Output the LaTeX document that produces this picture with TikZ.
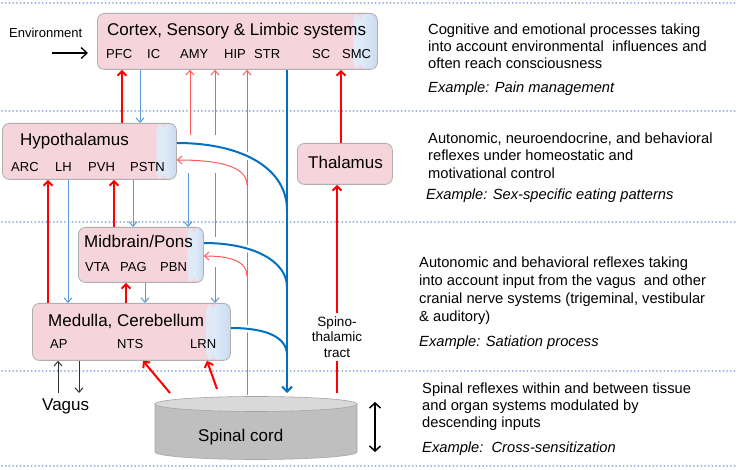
\documentclass[tikz,border=0pt]{standalone}
\usepackage{fontspec}
\setmainfont{Liberation Sans}
\usetikzlibrary{arrows.meta}
\definecolor{pinkc}{RGB}{245,212,220}
\definecolor{blueA}{RGB}{222,236,250}
\definecolor{blueB}{RGB}{206,218,239}
\definecolor{bordc}{RGB}{175,175,175}
\definecolor{dotc}{RGB}{143,170,220}
\definecolor{redA}{RGB}{255,0,0}
\definecolor{redB}{RGB}{255,90,90}
\definecolor{blueT}{RGB}{0,112,192}
\definecolor{blueL}{RGB}{91,155,213}
\definecolor{cylA}{RGB}{191,191,191}
\definecolor{cylB}{RGB}{217,217,217}
\definecolor{cylC}{RGB}{165,165,165}
\definecolor{darkk}{RGB}{50,50,50}
\begin{document}
\begin{tikzpicture}[x=1pt,y=-1pt,
  box/.style={draw=bordc, line width=0.8pt, rounded corners=7pt, fill=pinkc, inner sep=0pt, anchor=north west},
  grad/.style={path picture={
    \shade[left color=pinkc, right color=blueA] ([xshift=-#1]path picture bounding box.south east) rectangle ([xshift=-#1+7pt]path picture bounding box.north east);
    \shade[left color=blueA, right color=blueB] ([xshift=-#1+7pt]path picture bounding box.south east) rectangle (path picture bounding box.north east);}},
  ttl/.style={font=\fontsize{17}{20}\selectfont, inner sep=0pt, anchor=base west},
  lab/.style={font=\fontsize{13}{15}\selectfont, inner sep=0pt, anchor=base west},
  txt/.style={font=\fontsize{14.7}{17}\selectfont, inner sep=0pt, anchor=base west},
  ex/.style={font=\fontsize{14.7}{17}\selectfont\itshape, inner sep=0pt, anchor=base west},
  dotline/.style={draw=dotc, line width=2pt, dash pattern=on 0pt off 3.7pt, line cap=round},
  rthick/.style={draw=redA, line width=2pt, -{Straight Barb[length=4.5pt,width=9pt]}},
  rthin/.style={draw=redB, line width=1pt, -{Straight Barb[length=4.5pt,width=8pt]}},
  bthick/.style={draw=blueT, line width=2pt},
  bthin/.style={draw=blueL, line width=1pt, -{Straight Barb[length=4.5pt,width=8pt]}},
  kthin/.style={draw=darkk, line width=1pt, -{Straight Barb[length=4.5pt,width=8pt]}},
  bridge/.style={preaction={draw=white, line width=7pt}}
]
\fill[white] (0,0) rectangle (740,470);
\useasboundingbox (0,0) rectangle (740,470);

% dotted separators
\foreach \yy in {3,111,222,371,466} \draw[dotline] (2,\yy) -- (736,\yy);

% boxes
\node[box, grad=24pt, minimum width=280pt, minimum height=56pt] (cortex) at (97,13) {};
\node[box, grad=20pt, minimum width=174pt, minimum height=56pt] (hypo) at (2,123) {};
\node[box, minimum width=95pt, minimum height=41pt] (thal) at (297,143) {};
\node[box, grad=16pt, minimum width=125pt, minimum height=55pt] (mid) at (78,227) {};
\node[box, grad=24pt, minimum width=198pt, minimum height=57pt] (med) at (32,303) {};

% box texts
\node[ttl] (tcortex) at (107,36) {Cortex, Sensory \& Limbic systems};
\node[lab] (lpfc) at (106,59) {PFC};
\node[lab] (lic) at (147,59) {IC};
\node[lab] (lamy) at (180,59) {AMY};
\node[lab] (lhip) at (224,59) {HIP};
\node[lab] (lstr) at (254,59) {STR};
\node[lab] (lsc) at (312,59) {SC};
\node[lab] (lsmc) at (342,59) {SMC};

\node[ttl] (thypo) at (20,146) {Hypothalamus};
\node[lab] (larc) at (11,172) {ARC};
\node[lab] (llh) at (55,172) {LH};
\node[lab] (lpvh) at (88,172) {PVH};
\node[lab] (lpstn) at (130,172) {PSTN};

\node[ttl] (tthal) at (308,169) {Thalamus};

\node[ttl] (tmid) at (84,248) {Midbrain/Pons};
\node[lab] (lvta) at (85,272) {VTA};
\node[lab] (lpag) at (120,272) {PAG};
\node[lab] (lpbn) at (160,272) {PBN};

\node[ttl] (tmed) at (48,327) {Medulla, Cerebellum};
\node[lab] (lap) at (50,349) {AP};
\node[lab] (lnts) at (117,349) {NTS};
\node[lab] (llrn) at (190,349) {LRN};

% spinal cord
\path[fill=cylA, draw=cylC, line width=0.6pt] (155,404) -- (155,452) arc[start angle=180, end angle=0, x radius=101, y radius=7.5] -- (357,404) -- cycle;
\path[fill=cylB, draw=cylC, line width=0.6pt] (256,404) ellipse[x radius=101, y radius=7.5];
\node[ttl] (tspinal) at (198,442) {Spinal cord};

\node[ttl] (tvagus) at (42,411) {Vagus};
\node[font=\fontsize{13}{15}\selectfont, inner sep=0pt, anchor=base west] (tenv) at (9,38) {Environment};

\node[font=\fontsize{13.5}{15.5}\selectfont, align=center, inner sep=3pt] (st) at (337,337) {Spino-\\thalamic\\tract};

% coordinates
\coordinate (envA) at (52,53);
\coordinate (rA) at (190,135);
\coordinate (rB) at (215,135);
\coordinate (sHIP) at (247,395);
\coordinate (cH) at (247,185);
\coordinate (cM) at (247,276);
\coordinate (sSTR) at (287,393);
\coordinate (sNTS) at (170,393);
\coordinate (sLRN) at (217,389);
\coordinate (sST) at (337,393);
\coordinate (bA) at (188,173);
\coordinate (bB) at (215,173);
\coordinate (bB2) at (215,237);
\coordinate (bB3) at (215,267);
\coordinate (vU) at (58,393);
\coordinate (vD) at (79,393);
\coordinate (da1) at (375,402);
\coordinate (da2) at (375,452);

% thin red long line (drawn first, bridged by blue curves)
\draw[rthin] (sHIP) -- (cortex.south -| 247,0);

% blue thick curves with bridge
\draw[bthick, bridge] (hypo.east |- 0,143) .. controls (245,143) and (287,170) .. (287,210);
\draw[bthick, bridge] (mid.east |- 0,243) .. controls (255,243) and (287,262) .. (287,287);
\draw[bthick, bridge] (med.east |- 0,328) .. controls (268,328) and (287,338) .. (287,355);
\draw[bthick, -{Straight Barb[length=5pt,width=10pt]}] (cortex.south -| 287,0) -- (sSTR);

% thin red
\draw[rthin] (rA) -- (cortex.south -| 190,0);
\draw[rthin] (rB) -- (cortex.south -| 215,0);
\draw[rthin] (cH) .. controls (247,166) and (218,160) .. (hypo.east |- 0,160);
\draw[rthin] (cM) .. controls (247,262) and (232,256) .. (mid.east |- 0,256);

% thick red
\draw[rthick] (hypo.north -| 122,0) -- (cortex.south -| 122,0);
\draw[rthick] (thal.north -| 341,0) -- (cortex.south -| 341,0);
\draw[rthick] (med.north -| 48,0) -- (hypo.south -| 48,0);
\draw[rthick] (mid.north -| 114,0) -- (hypo.south -| 114,0);
\draw[rthick] (med.north -| 126,0) -- (mid.south -| 126,0);
\draw[rthick] (sNTS) -- (med.south -| 143,0);
\draw[rthick] (sLRN) -- (med.south -| 207,0);
\draw[draw=redA, line width=2pt] (sST) -- (st.south);
\draw[rthick] (st.north) -- (thal.south -| 337,0);

% thin blue
\draw[bthin] (cortex.south -| 140,0) -- (hypo.north -| 140,0);
\draw[bthin] (hypo.south -| 68,0) -- (med.north -| 68,0);
\draw[bthin] (hypo.south -| 133,0) -- (mid.north -| 133,0);
\draw[bthin] (bA) -- (mid.north -| 188,0);
\draw[draw=blueL, line width=1pt] (bB) -- (bB2);
\draw[bthin] (bB3) -- (med.north -| 215,0);
\draw[bthin] (mid.south -| 145,0) -- (med.north -| 145,0);

% black arrows
\draw[kthin] (vU) -- (med.south -| 58,0);
\draw[kthin] (med.south -| 79,0) -- (vD);
\draw[draw=black, line width=1.3pt, -{Straight Barb[length=6pt,width=11pt]}, shorten >=9pt] (envA) -- (cortex.west |- 0,53);
\draw[draw=black, line width=1.5pt, {Straight Barb[length=5pt,width=11pt]}-{Straight Barb[length=5pt,width=11pt]}] (da1) -- (da2);

% right-hand descriptions
\node[txt] (d1a) at (428,35) {Cognitive and emotional processes taking};
\node[txt] (d1b) at (428,52) {into account environmental\ \ influences and};
\node[txt] (d1c) at (428,69) {often reach consciousness};
\node[ex] (d1e) at (428,93) {Example: Pain management};

\node[txt] (d2a) at (428,144) {Autonomic, neuroendocrine, and behavioral};
\node[txt] (d2b) at (428,161) {reflexes under homeostatic and};
\node[txt] (d2c) at (428,179) {motivational control};
\node[ex] (d2e) at (426,200) {Example: Sex-specific eating patterns};

\node[txt] (d3a) at (419,268) {Autonomic and behavioral reflexes taking};
\node[txt] (d3b) at (419,286) {into account input from the vagus\ \ and other};
\node[txt] (d3c) at (419,304) {cranial nerve systems (trigeminal, vestibular};
\node[txt] (d3d) at (419,322) {\& auditory)};
\node[ex] (d3e) at (419,347) {Example: Satiation process};

\node[txt] (d4a) at (422,394) {Spinal reflexes within and between tissue};
\node[txt] (d4b) at (422,411) {and organ systems modulated by};
\node[txt] (d4c) at (422,428) {descending inputs};
\node[ex] (d4e) at (422,453) {Example:\ \ Cross-sensitization};
\end{tikzpicture}
\end{document}
